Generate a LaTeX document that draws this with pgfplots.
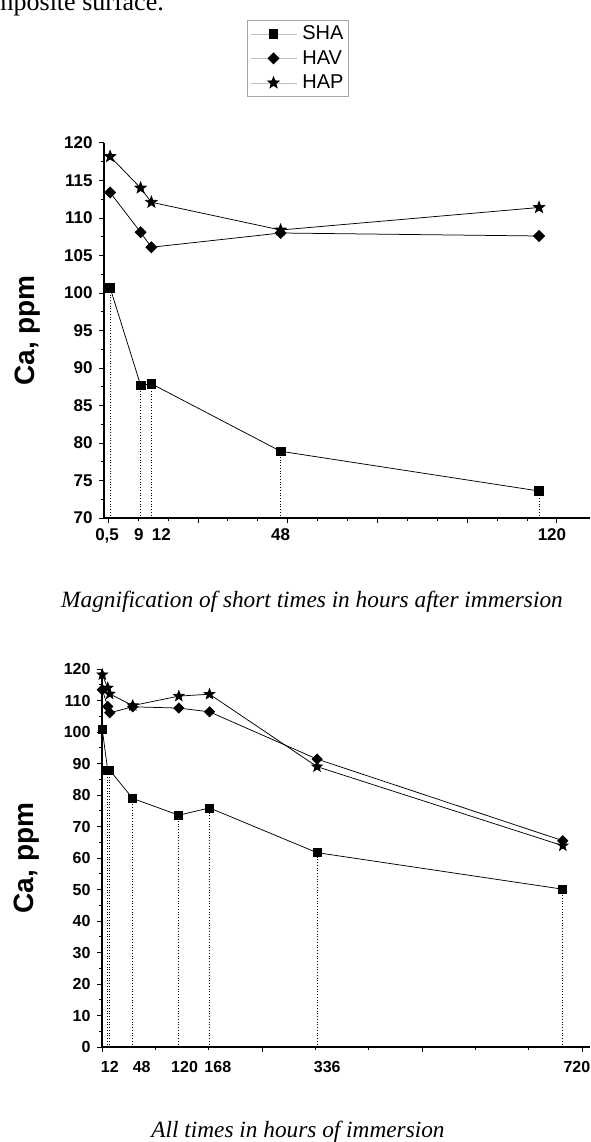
\documentclass[border=0pt]{standalone}
\usepackage{fontspec}
\setmainfont{Liberation Sans}
\newfontfamily\timesfont{Liberation Serif}
\usepackage{pgfplots}
\pgfplotsset{compat=1.18}
\usepackage{pgfplotstable}

\pgfdeclareplotmark{fstar}{%
  \pgfpathmoveto{\pgfpointpolar{90}{\pgfplotmarksize}}%
  \pgfpathlineto{\pgfpointpolar{126}{0.42*\pgfplotmarksize}}%
  \pgfpathlineto{\pgfpointpolar{162}{\pgfplotmarksize}}%
  \pgfpathlineto{\pgfpointpolar{198}{0.42*\pgfplotmarksize}}%
  \pgfpathlineto{\pgfpointpolar{234}{\pgfplotmarksize}}%
  \pgfpathlineto{\pgfpointpolar{270}{0.42*\pgfplotmarksize}}%
  \pgfpathlineto{\pgfpointpolar{306}{\pgfplotmarksize}}%
  \pgfpathlineto{\pgfpointpolar{342}{0.42*\pgfplotmarksize}}%
  \pgfpathlineto{\pgfpointpolar{18}{\pgfplotmarksize}}%
  \pgfpathlineto{\pgfpointpolar{54}{0.42*\pgfplotmarksize}}%
  \pgfpathclose
  \pgfusepathqfillstroke}

% Short times (hours)
\pgfplotstableread{
t SHA HAV HAP
0.5 100.7 113.4 118.2
9 87.7 108.1 114.0
12 87.9 106.1 112.1
48 78.9 108.0 108.4
120 73.6 107.6 111.4
}\shorttable

% All times (hours)
\pgfplotstableread{
t SHA HAV HAP
0.5 100.7 113.4 118.2
9 87.7 108.1 114.0
12 87.9 106.1 112.1
48 78.9 108.0 108.4
120 73.6 107.6 111.4
168 75.9 106.4 112.0
336 61.7 91.4 89.0
720 50.1 65.5 63.9
}\alltable

\pgfplotsset{
  myax/.style={
    scale only axis,
    axis x line*=bottom, axis y line*=left,
    axis line style={-, line width=1.3pt},
    tick align=outside,
    major tick length=5pt, minor tick length=3pt,
    every tick/.style={black, line width=1pt},
    xticklabels={},
    extra x tick style={major tick length=0pt},
    /pgf/number format/assume math mode=true,
    ylabel={Ca, ppm},
    ylabel style={font=\bfseries\fontsize{28}{28}\selectfont, anchor=center},
    minor y tick num=1,
    minor x tick num=2,
    clip=false,
  },
  sha/.style={black, line width=0.75pt, mark=square*, mark size=4.3pt, mark options={solid}},
  hav/.style={black, line width=0.75pt, mark=square*, mark size=3.9pt, mark options={solid, rotate=45}},
  hap/.style={black, line width=0.75pt, mark=fstar, mark size=6pt, mark options={solid}},
  drop/.style={black, line width=0.75pt, dotted, ycomb, mark=none},
}

\begin{document}
\begin{tikzpicture}
\useasboundingbox (0pt,0pt) rectangle (590pt,-1142pt);

\node[font=\timesfont\fontsize{26}{26}\selectfont, anchor=base east, inner sep=0pt] at (164pt,-11pt) {composite surface.};

% ---------- top: short times ----------
\begin{axis}[myax,
  at={(104pt,-518pt)}, anchor=south west,
  width=486pt, height=375pt,
  xmin=-1.2, xmax=134.2, ymin=70, ymax=120,
  xtick={0,25,...,125},
  ytick={70,75,...,120},
  xticklabel style={font=\bfseries\fontsize{17}{17}\selectfont, yshift=-7pt},
  yticklabel style={font=\bfseries\fontsize{17}{17}\selectfont, xshift=-3pt},
  extra x ticks={0.5,8.5,14.8,48,123.6},
  extra x tick labels={{0,5\hspace*{6pt}},9,12,48,120},
  ylabel style={at={(axis description cs:-0.158,0.5)}},
  legend style={at={(0.294,1.328)}, anchor=north west, draw=gray!70, line width=0.7pt,
    font=\fontsize{20}{20}\selectfont, inner xsep=3pt, inner ysep=4pt, row sep=5.5pt,
    column sep=4pt,
    nodes={inner sep=1.5pt, text height=14pt, text depth=2pt}},
  legend cell align=left,
  legend image code/.code={%
    \draw[gray!50, line width=0.6pt, solid] (0pt,0pt) -- (46pt,0pt);
    \draw[#1] plot[only marks] coordinates {(23pt,0pt)};},
]
\addplot[drop, forget plot] table[x=t, y=SHA] {\shorttable};
\addplot[sha] table[x=t, y=SHA] {\shorttable};
\addlegendentry{SHA}
\addplot[hav] table[x=t, y=HAV] {\shorttable};
\addlegendentry{HAV}
\addplot[hap] table[x=t, y=HAP] {\shorttable};
\addlegendentry{HAP}
\end{axis}

\node[font=\timesfont\itshape\fontsize{23.3}{23.3}\selectfont, anchor=base] at (312pt,-607pt)
  {Magnification of short times in hours after immersion};

% ---------- bottom: all times ----------
\begin{axis}[myax,
  at={(102pt,-1047pt)}, anchor=south west,
  width=488pt, height=378pt,
  xmin=0, xmax=762.5, ymin=0, ymax=120,
  xtick={0,250,500,750},
  ytick={0,10,...,120},
  yticklabel style={font=\bfseries\fontsize{16}{16}\selectfont, xshift=-3pt},
  xticklabel style={font=\bfseries\fontsize{16}{16}\selectfont, yshift=-11pt},
  extra x ticks={12.2,62,129,181,352,742},
  extra x tick labels={12,48,120,168,336,720},
  ylabel style={at={(axis description cs:-0.154,0.5)}},
]
\addplot[drop, forget plot] table[x=t, y=SHA] {\alltable};
\addplot[sha, mark size=4pt] table[x=t, y=SHA] {\alltable};
\addplot[hav, mark size=3.6pt] table[x=t, y=HAV] {\alltable};
\addplot[hap, mark size=5.5pt] table[x=t, y=HAP] {\alltable};
\end{axis}

\node[font=\timesfont\itshape\fontsize{23.3}{23.3}\selectfont, anchor=base] at (298pt,-1137pt)
  {All times in hours of immersion};
\end{tikzpicture}
\end{document}
